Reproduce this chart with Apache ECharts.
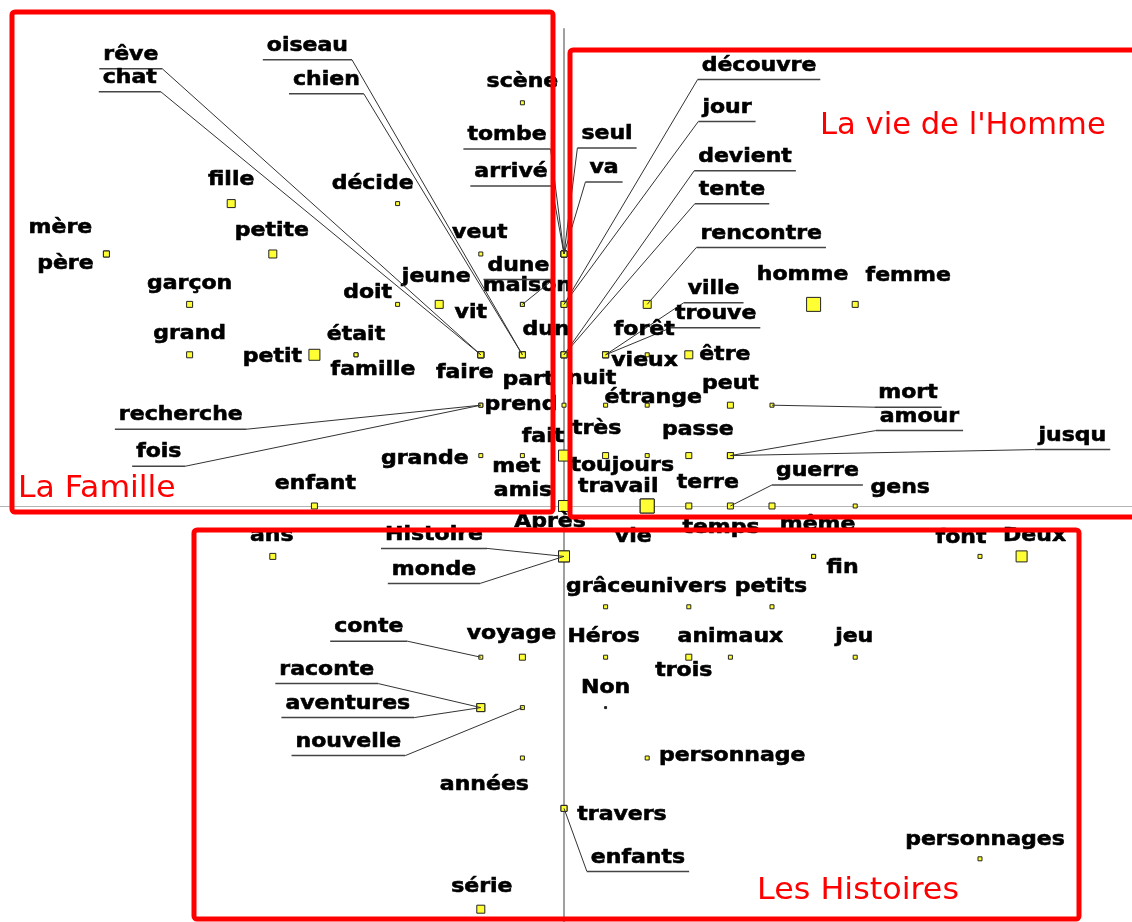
<!DOCTYPE html>
<html>
<head>
<meta charset="utf-8">
<title>Plan factoriel des mots</title>
<script src="https://cdn.jsdelivr.net/npm/echarts@6/dist/echarts.min.js"></script>
<style>
  html, body { margin: 0; padding: 0; background: #fff; }
  #chart { width: 1132px; height: 922px; }
</style>
</head>
<body>
<div id="chart"></div>
<script>
// mots du plan factoriel
const words = [
  'scène', 'fille', 'décide', 'mère', 'père', 'petite', 'veut', 'tombe', 'arrivé', 'seul', 'va',
  'garçon', 'doit', 'jeune', 'vit', 'maison', 'dune', 'découvre', 'jour', 'rencontre', 'homme', 'femme',
  'grand', 'petit', 'était', 'famille', 'faire', 'rêve', 'chat', 'part', 'oiseau', 'chien',
  'dun', 'devient', 'tente', 'vieux', 'ville', 'trouve', 'forêt', 'être',
  'recherche', 'fois', 'prend', 'nuit', 'étrange', 'peut', 'mort',
  'grande', 'met', 'fait', 'très', 'toujours', 'passe', 'amour', 'jusqu',
  'enfant', 'amis', 'Après', 'travail', 'vie', 'terre', 'guerre', 'temps', 'gens',
  'ans', 'Histoire', 'monde', 'même', 'fin', 'font', 'Deux',
  'grâce', 'univers', 'petits', 'conte', 'voyage', 'Héros', 'trois', 'animaux', 'jeu',
  'raconte', 'aventures', 'nouvelle', 'Non', 'années', 'personnage', 'travers', 'enfants',
  'personnages', 'série'
]
// facteur 1 (colonne de la grille)
const cols = [
  -1, -8, -4, -11, -11, -7, -2, 0, 0, 0, 0,
  -9, -4, -3, -2, -1, -1, 0, 0, 2, 6, 7,
  -9, -6, -5, -5, -2, -2, -2, -1, -1, -1,
  0, 0, 0, 1, 1, 1, 2, 3,
  -2, -2, 0, 1, 2, 4, 5,
  -2, -1, 0, 1, 2, 3, 4, 4,
  -6, 0, 0, 2, 2, 3, 4, 5, 7,
  -7, 0, 0, 6, 6, 10, 11,
  1, 3, 5, -2, -1, 1, 3, 4, 7,
  -2, -2, -1, 1, -1, 2, 0, 0,
  10, -2
]
// facteur 2 (ligne de la grille)
const rows = [
  8, 6, 6, 5, 5, 5, 5, 5, 5, 5, 5,
  4, 4, 4, 3, 4, 4, 4, 4, 4, 4, 4,
  3, 3, 3, 3, 3, 3, 3, 3, 3, 3,
  3, 3, 3, 3, 3, 3, 3, 3,
  2, 2, 2, 2, 2, 2, 2,
  1, 1, 1, 1, 1, 1, 1, 1,
  0, 0, 0, 0, 0, 0, 0, 0, 0,
  -1, -1, -1, -1, -1, -1, -1,
  -2, -2, -2, -3, -3, -3, -3, -3, -3,
  -4, -4, -4, -4, -5, -5, -6, -6,
  -7, -8
]
// poids du mot (0 = point, 5 = le plus gros carré)
const weights = [
  1, 3, 1, 2, 2, 3, 1, 2, 2, 2, 2,
  2, 1, 3, 2, 1, 1, 2, 2, 3, 5, 2,
  2, 4, 1, 1, 2, 2, 2, 2, 2, 2,
  2, 2, 2, 2, 2, 2, 1, 3,
  1, 1, 1, 1, 1, 2, 1,
  1, 1, 4, 2, 1, 2, 2, 2,
  2, 4, 4, 5, 5, 2, 2, 2, 1,
  2, 4, 4, 1, 1, 1, 4,
  1, 1, 1, 1, 2, 1, 2, 1, 1,
  3, 3, 1, 0, 1, 1, 2, 2,
  1, 3
]

// placement des étiquettes (décalage en px depuis le point), 1 = étiquette déportée avec trait
const labelPos = {
  'scène': [0, -21], 'fille': [0, -24], 'décide': [-25, -20], 'mère': [-46, -26], 'père': [-41, 10],
  'petite': [-1, -23], 'veut': [-1, -21], 'tombe': [-57, -119, 1], 'arrivé': [-53, -82, 1],
  'seul': [43, -120, 1], 'va': [40, -86, 1], 'garçon': [0, -21], 'doit': [-30, -12], 'jeune': [-3, -28],
  'vit': [-10, -42], 'maison': [5, -19], 'dune': [-4, -39, 1], 'découvre': [195, -239, 1], 'jour': [163, -197, 1],
  'rencontre': [114, -71, 1], 'homme': [-11, -30], 'femme': [53, -29],
  'grand': [0, -21], 'petit': [-42, 2], 'était': [0, -20], 'famille': [17, 15], 'faire': [-16, 18],
  'rêve': [-350, -300, 1], 'chat': [-351, -277, 1], 'part': [6, 25], 'oiseau': [-215, -309, 1], 'chien': [-196, -275, 1],
  'dun': [-18, -25], 'devient': [181, -198, 1], 'tente': [168, -165, 1], 'vieux': [39, 6],
  'ville': [108, -66, 1], 'trouve': [110, -41, 1], 'forêt': [-3, -25], 'être': [36, 0],
  'recherche': [-300, 10, 1], 'fois': [-322, 47, 1], 'prend': [-43, 0], 'nuit': [-14, -26],
  'étrange': [6, -7], 'peut': [0, -21], 'mort': [136, -12, 1],
  'grande': [-56, 3], 'met': [-6, 11], 'fait': [-21, -19], 'très': [-9, -27], 'toujours': [-25, 10],
  'passe': [9, -26], 'amour': [189, -39, 1], 'jusqu': [342, -20, 1],
  'enfant': [1, -22], 'amis': [-41, -15], 'Après': [-14, 16], 'travail': [-29, -19], 'vie': [-14, 31],
  'terre': [19, -23], 'guerre': [87, -35, 1], 'temps': [-51, 22], 'gens': [45, -18],
  'ans': [-1, -21], 'Histoire': [-130, -22, 1], 'monde': [-130, 13, 1], 'même': [4, -32], 'fin': [29, 11],
  'font': [-19, -19], 'Deux': [13, -21],
  'grâce': [-5, -20], 'univers': [-8, -20], 'petits': [-1, -20], 'conte': [-112, -30, 1], 'voyage': [-11, -23],
  'Héros': [-2, -20], 'trois': [-5, 14], 'animaux': [0, -20], 'jeu': [-1, -20],
  'raconte': [-154, -38, 1], 'aventures': [-133, -4, 1], 'nouvelle': [-174, 34, 1], 'Non': [0, -20],
  'années': [-38, 27], 'personnage': [85, -2], 'travers': [58, 6], 'enfants': [74, 49, 1],
  'personnages': [5, -19], 'série': [1, -22]
}

const SIZES = [2, 4, 6, 8, 11, 14]
const FONT = 'bold 20px "DejaVu Sans"'
const STRETCH = 1.1

let measure = document.createElement('canvas').getContext('2d')
measure.font = FONT
function textWidth(t) {
  return measure.measureText(t).width * STRETCH
}

let points = words.map((w, i) => [cols[i], rows[i]])

// étiquettes + traits de rappel
function renderLabel(params, api) {
  let name = words[params.dataIndex]
  let p = api.coord([api.value(0), api.value(1)])
  let lay = labelPos[name]
  let cx = p[0] + lay[0]
  let cy = p[1] + lay[1]
  let children = []
  if (lay[2]) {
    let half = textWidth(name) / 2 + 4
    let uy = cy + 14
    let left = [cx - half, uy]
    let right = [cx + half, uy]
    let dl = Math.hypot(left[0] - p[0], left[1] - p[1])
    let dr = Math.hypot(right[0] - p[0], right[1] - p[1])
    let end = dl < dr ? left : right
    children.push({
      type: 'line',
      shape: { x1: p[0], y1: p[1], x2: end[0], y2: end[1] },
      style: { stroke: '#333', lineWidth: 1 }
    })
    children.push({
      type: 'line',
      shape: { x1: left[0], y1: uy, x2: right[0], y2: uy },
      style: { stroke: '#444', lineWidth: 1.5 }
    })
  }
  children.push({
    type: 'text',
    x: cx,
    y: cy,
    scaleX: STRETCH,
    style: {
      text: name, x: 0, y: 0, font: FONT, fill: '#000',
      stroke: '#000', lineWidth: 0.6,
      align: 'center', verticalAlign: 'middle',
      textAlign: 'center', textVerticalAlign: 'middle'
    }
  })
  return { type: 'group', children: children }
}

let chart = echarts.init(document.getElementById('chart'))
chart.setOption({
  animation: false,
  backgroundColor: '#fff',
  grid: { left: 0, right: 0, top: 29, bottom: 0 },
  xAxis: {
    type: 'value',
    min: -13.558,
    max: 13.654,
    axisLine: { onZero: true, lineStyle: { color: '#b4b4b4', width: 1.2 } },
    axisTick: { show: false },
    axisLabel: { show: false },
    splitLine: { show: false }
  },
  yAxis: {
    type: 'value',
    min: -8.254,
    max: 9.464,
    axisLine: { onZero: true, lineStyle: { color: '#a0a0a0', width: 2 } },
    axisTick: { show: false },
    axisLabel: { show: false },
    splitLine: { show: false }
  },
  series: [
    {
      type: 'scatter',
      data: points,
      symbol: 'rect',
      symbolSize: (val, params) => SIZES[weights[params.dataIndex]],
      itemStyle: {
        color: (params) => (weights[params.dataIndex] === 0 ? '#222' : '#ffff33'),
        borderColor: '#222',
        borderWidth: 1,
        opacity: 1
      },
      z: 2,
      silent: true
    },
    {
      type: 'custom',
      data: points,
      renderItem: renderLabel,
      z: 3,
      silent: true
    }
  ],
  graphic: [
    { type: 'rect', z: 100, silent: true, shape: { x: 12, y: 12, width: 541, height: 500, r: 3 },
      style: { fill: 'none', stroke: '#ff0000', lineWidth: 5 } },
    { type: 'rect', z: 100, silent: true, shape: { x: 570, y: 50, width: 600, height: 467, r: 3 },
      style: { fill: 'none', stroke: '#ff0000', lineWidth: 5 } },
    { type: 'rect', z: 100, silent: true, shape: { x: 194, y: 530, width: 885, height: 389, r: 3 },
      style: { fill: 'none', stroke: '#ff0000', lineWidth: 5 } },
    { type: 'text', z: 101, silent: true, x: 18, y: 489, scaleX: 1.05,
      style: { text: 'La Famille', font: '30px "DejaVu Sans"', fill: '#ff0000', verticalAlign: 'middle', textVerticalAlign: 'middle' } },
    { type: 'text', z: 101, silent: true, x: 820, y: 126, scaleX: 1.02,
      style: { text: "La vie de l'Homme", font: '30px "DejaVu Sans"', fill: '#ff0000', verticalAlign: 'middle', textVerticalAlign: 'middle' } },
    { type: 'text', z: 101, silent: true, x: 757, y: 891, scaleX: 1.06,
      style: { text: 'Les Histoires', font: '30px "DejaVu Sans"', fill: '#ff0000', verticalAlign: 'middle', textVerticalAlign: 'middle' } }
  ]
})
</script>
</body>
</html>
